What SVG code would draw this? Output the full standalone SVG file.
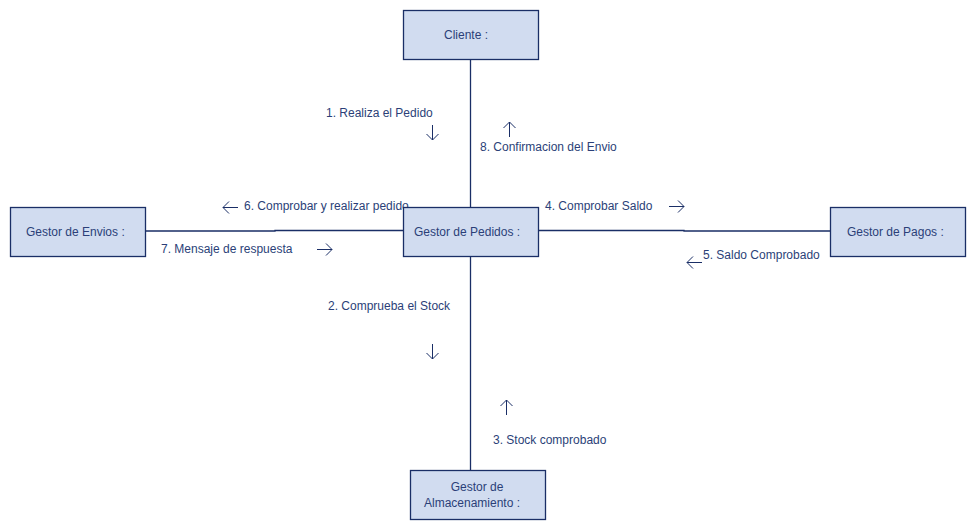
<svg xmlns="http://www.w3.org/2000/svg" width="976" height="530" viewBox="0 0 976 530">
<style>
.box{fill:#d1dcf0;stroke:#1a2e66;stroke-width:1.3}
.lbl{font-family:"Liberation Sans",Arial,sans-serif;font-size:12px;fill:#2b3f78}
.ln{fill:none;stroke:#1a2e66;stroke-width:1.3}
.ar{fill:none;stroke:#1a2e66;stroke-width:1}
</style>
<rect width="976" height="530" fill="#ffffff"/>
<g id="connectors">
<line class="ln" x1="470.5" y1="59" x2="470.5" y2="207"/>
<line class="ln" x1="470.5" y1="256" x2="470.5" y2="470"/>
<polyline class="ln" points="145,231 275,231 275,230.5 403,230.5"/>
<polyline class="ln" points="538,230.5 684,230.5 684,231 830,231"/>
<g id="msg1">
<text class="lbl" x="326" y="117">1. Realiza el Pedido</text>
<path class="ar" d="M432.5,125 V140 M426.5,134 L432.5,140 L438.5,134"/>
</g>
<g id="msg8">
<text class="lbl" x="480" y="151">8. Confirmacion del Envio</text>
<path class="ar" d="M509.5,137 V122 M503.5,128 L509.5,122 L515.5,128"/>
</g>
<g id="msg6">
<text class="lbl" x="244" y="210">6. Comprobar y realizar pedido</text>
<path class="ar" d="M238,207.5 H223 M229,201.5 L223,207.5 L229,213.5"/>
</g>
<g id="msg7">
<text class="lbl" x="161" y="253">7. Mensaje de respuesta</text>
<path class="ar" d="M317,249.5 H332 M326,243.5 L332,249.5 L326,255.5"/>
</g>
<g id="msg4">
<text class="lbl" x="545" y="210">4. Comprobar Saldo</text>
<path class="ar" d="M669,206.5 H684 M678,200.5 L684,206.5 L678,212.5"/>
</g>
<g id="msg5">
<text class="lbl" x="703" y="259">5. Saldo Comprobado</text>
<path class="ar" d="M702,262.5 H687 M693,256.5 L687,262.5 L693,268.5"/>
</g>
<g id="msg2">
<text class="lbl" x="328" y="310">2. Comprueba el Stock</text>
<path class="ar" d="M432.5,344 V359 M426.5,353 L432.5,359 L438.5,353"/>
</g>
<g id="msg3">
<text class="lbl" x="493" y="444">3. Stock comprobado</text>
<path class="ar" d="M506.5,415 V400 M500.5,406 L506.5,400 L512.5,406"/>
</g>
</g>
<g id="cliente">
<rect class="box" x="403.5" y="10.5" width="135" height="49"/>
<text class="lbl" x="444" y="39">Cliente  :</text>
</g>
<g id="pedidos">
<rect class="box" x="403.5" y="207.5" width="135" height="49"/>
<text class="lbl" x="414" y="236">Gestor de Pedidos  :</text>
</g>
<g id="envios">
<rect class="box" x="10.5" y="207.5" width="135" height="49"/>
<text class="lbl" x="26" y="236">Gestor de Envios  :</text>
</g>
<g id="pagos">
<rect class="box" x="830.5" y="207.5" width="135" height="49"/>
<text class="lbl" x="847" y="236">Gestor de Pagos  :</text>
</g>
<g id="almacen">
<rect class="box" x="410.5" y="470.5" width="135" height="49"/>
<text class="lbl" x="477" y="491" text-anchor="middle">Gestor de</text>
<text class="lbl" x="424" y="507">Almacenamiento  :</text>
</g>
</svg>
